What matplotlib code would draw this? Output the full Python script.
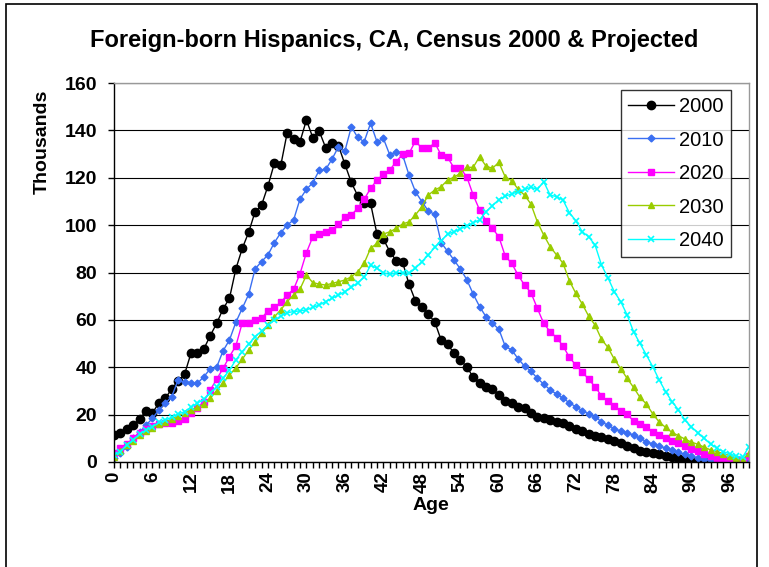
import matplotlib
matplotlib.use("Agg")
import matplotlib.pyplot as plt
from matplotlib.patches import Rectangle

plt.rcParams['font.family'] = ['Liberation Sans', 'DejaVu Sans']

ages = list(range(100))

pop_2000 = [11.4, 12.1, 13.8, 15.6, 18.1, 21.7, 20.8, 24.9, 27.0, 30.8,
            34.3, 37.0, 45.9, 45.9, 47.7, 53.3, 58.5, 64.6, 69.1, 81.5,
            90.2, 97.0, 105.7, 108.4, 116.5, 126.1, 125.2, 139.0, 136.2, 135.2,
            144.4, 136.9, 139.6, 132.7, 134.5, 133.5, 125.7, 118.0, 112.4, 109.2,
            109.2, 96.2, 94.1, 88.8, 85.0, 84.3, 75.0, 68.0, 65.6, 62.3,
            59.2, 51.5, 49.8, 45.9, 43.0, 40.2, 35.8, 33.2, 31.5, 30.8,
            28.3, 25.7, 25.0, 23.1, 22.7, 20.8, 19.1, 18.4, 17.7, 17.0,
            16.3, 15.2, 14.1, 13.1, 11.8, 11.1, 10.7, 9.6, 8.7, 7.9,
            6.8, 5.8, 4.8, 4.1, 3.7, 3.2, 2.7, 2.1, 1.6, 1.1,
            0.7, 0.5, 0.4, 0.3, 0.3, 0.2, 0.2, 0.1, 0.1, 0.8]

pop_2010 = [1.5, 3.7, 6.5, 10.0, 12.5, 15.6, 18.4, 22.0, 24.8, 27.6,
            34.6, 33.6, 33.2, 33.2, 36.0, 39.3, 40.0, 46.9, 51.5, 59.0,
            64.9, 70.8, 81.5, 84.6, 87.4, 92.6, 96.8, 100.0, 102.2, 111.0,
            115.1, 117.9, 123.2, 123.5, 127.9, 133.1, 131.3, 141.5, 137.0, 135.2,
            143.0, 135.2, 136.6, 129.6, 131.0, 129.6, 121.1, 114.1, 109.9, 106.0,
            104.5, 92.6, 89.0, 85.3, 81.5, 77.0, 70.9, 65.6, 61.3, 58.5,
            56.1, 48.8, 47.3, 43.6, 40.5, 38.4, 35.3, 32.9, 30.4, 28.7,
            26.9, 25.0, 23.3, 21.7, 20.3, 19.1, 17.0, 15.5, 14.1, 13.0,
            12.4, 11.3, 10.0, 8.6, 7.6, 6.8, 5.8, 4.9, 4.1, 3.2,
            2.5, 1.8, 1.4, 0.8, 0.6, 0.5, 0.4, 0.3, 0.3, 1.2]

pop_2020 = [3.7, 5.8, 7.6, 10.0, 12.4, 13.8, 15.2, 16.0, 16.3, 16.3,
            17.4, 18.1, 20.5, 22.9, 25.5, 30.4, 34.9, 39.5, 44.5, 49.0,
            58.8, 58.8, 59.9, 60.6, 63.9, 65.3, 67.4, 70.5, 72.9, 79.5,
            88.4, 95.1, 96.2, 97.2, 97.9, 100.5, 103.3, 104.3, 107.1, 110.9,
            115.5, 119.0, 121.4, 123.3, 126.8, 130.0, 130.3, 135.5, 132.4, 132.4,
            134.8, 129.6, 128.6, 124.2, 124.0, 120.4, 112.7, 106.4, 101.9, 98.6,
            95.1, 86.9, 83.9, 78.9, 74.7, 71.5, 64.9, 58.5, 55.0, 52.5,
            49.0, 44.2, 40.9, 38.1, 34.9, 31.8, 27.9, 25.7, 23.6, 21.7,
            20.1, 17.4, 16.0, 14.6, 12.8, 11.4, 10.1, 8.9, 8.0, 6.9,
            5.5, 4.5, 3.5, 2.5, 1.8, 1.3, 1.0, 0.8, 0.8, 2.5]

pop_2030 = [2.2, 4.5, 7.0, 9.0, 11.5, 13.0, 14.5, 16.0, 17.0, 18.0,
            19.5, 20.5, 22.0, 23.2, 24.4, 26.9, 30.1, 33.5, 36.7, 39.8,
            43.4, 47.3, 50.8, 54.3, 57.8, 61.3, 64.2, 67.7, 70.5, 73.0,
            78.9, 75.7, 75.1, 74.7, 75.4, 76.1, 76.8, 78.2, 80.3, 83.9,
            90.2, 92.3, 96.2, 97.2, 98.6, 100.5, 101.4, 104.3, 107.8, 112.7,
            114.8, 116.2, 119.0, 120.2, 121.9, 124.4, 124.4, 128.9, 124.9, 124.0,
            126.5, 120.3, 118.8, 115.2, 112.7, 108.9, 101.4, 95.8, 90.9, 87.4,
            83.9, 76.5, 71.2, 66.7, 61.6, 57.8, 51.8, 48.4, 43.4, 39.4,
            35.3, 31.5, 27.3, 24.5, 20.3, 16.9, 14.6, 12.5, 11.1, 9.7,
            8.4, 7.5, 6.3, 5.1, 4.4, 3.5, 2.7, 1.6, 0.8, 3.9]

pop_2040 = [3.0, 4.4, 7.2, 9.3, 11.8, 13.5, 14.9, 16.7, 17.7, 18.9,
            20.3, 21.2, 23.1, 24.8, 26.5, 29.0, 31.8, 35.3, 38.8, 43.1,
            46.6, 49.8, 52.9, 55.3, 57.8, 59.9, 61.6, 63.0, 63.5, 63.8,
            64.2, 65.3, 66.3, 67.7, 69.1, 70.5, 71.9, 73.7, 75.7, 78.0,
            83.0, 81.8, 79.9, 79.2, 79.9, 79.9, 79.6, 81.8, 84.6, 87.4,
            90.6, 93.4, 96.2, 97.2, 98.4, 99.7, 101.0, 102.2, 105.7, 108.2,
            110.8, 112.2, 113.2, 114.0, 115.1, 116.0, 115.1, 118.3, 112.7, 112.0,
            110.6, 105.2, 101.9, 97.2, 95.1, 91.6, 83.2, 77.8, 71.9, 67.7,
            62.1, 55.0, 50.1, 45.2, 40.2, 34.6, 29.7, 25.5, 22.0, 17.7,
            14.9, 12.4, 10.0, 7.6, 5.8, 4.4, 3.4, 2.5, 2.0, 6.5]

series = ['2000', '2010', '2020', '2030', '2040']
y_ticks = [0, 20, 40, 60, 80, 100, 120, 140, 160]
x_ticks = list(range(0, 97, 6))

fig = plt.figure(figsize=(7.69, 5.67), dpi=100)
ax = fig.add_axes([114 / 769, 1 - 462 / 567, 635 / 769, 379 / 567])

ax.plot(ages, pop_2000, color='black', lw=1, marker='o', ms=6, label=series[0])
ax.plot(ages, pop_2010, color='#3a6ff2', lw=1, marker='D', ms=3.5, label=series[1])
ax.plot(ages, pop_2020, color='#ff00ff', lw=1, marker='s', ms=4, label=series[2])
ax.plot(ages, pop_2030, color='#99cc00', lw=1, marker='^', ms=5, label=series[3])
ax.plot(ages, pop_2040, color='#00ffff', lw=1, marker='x', ms=5, mew=1.2, label=series[4])

ax.set_xlim(0, 99)
ax.set_ylim(0, 160)
ax.set_yticks(y_ticks)
ax.set_yticklabels([str(v) for v in y_ticks], fontsize=14, fontweight='bold')
ax.set_xticks(x_ticks)
ax.set_xticklabels([str(v) for v in x_ticks], fontsize=13.5, fontweight='bold', rotation=90)
ax.set_xticks(ages, minor=True)
ax.tick_params(axis='both', which='both', direction='out', length=4, width=1, color='black')
ax.tick_params(axis='x', which='major', pad=3)
ax.tick_params(axis='y', which='major', pad=8)
ax.grid(axis='y', color='black', lw=0.8)
ax.set_axisbelow(True)

ax.spines['left'].set_color('black')
ax.spines['bottom'].set_color('black')
ax.spines['top'].set_color('#999999')
ax.spines['right'].set_color('#999999')
for s in ax.spines.values():
    s.set_linewidth(1)

fig.text(394 / 769, 1 - 40 / 567, 'Foreign-born Hispanics, CA, Census 2000 & Projected',
         ha='center', va='center', fontsize=17, fontweight='bold')
fig.text(431 / 769, 1 - 506 / 567, 'Age', ha='center', va='center', fontsize=14, fontweight='bold')
fig.text(42 / 769, 1 - 142 / 567, 'Thousands', ha='center', va='center', rotation=90,
         fontsize=14, fontweight='bold')

leg = ax.legend(loc='upper left', bbox_to_anchor=(621 / 769, 1 - 90 / 567),
                bbox_transform=fig.transFigure, borderaxespad=0, fontsize=14.5,
                frameon=True, fancybox=False, handlelength=2.3, labelspacing=0.72,
                borderpad=0.35, handletextpad=0.25)
leg.get_frame().set_edgecolor('black')
leg.get_frame().set_linewidth(1)

fig.patches.append(Rectangle((6 / 769, -0.02), 751 / 769, 1.02 - 4 / 567, transform=fig.transFigure,
                             fill=False, edgecolor='black', lw=1.2))

fig.savefig('out.png', dpi=100)
